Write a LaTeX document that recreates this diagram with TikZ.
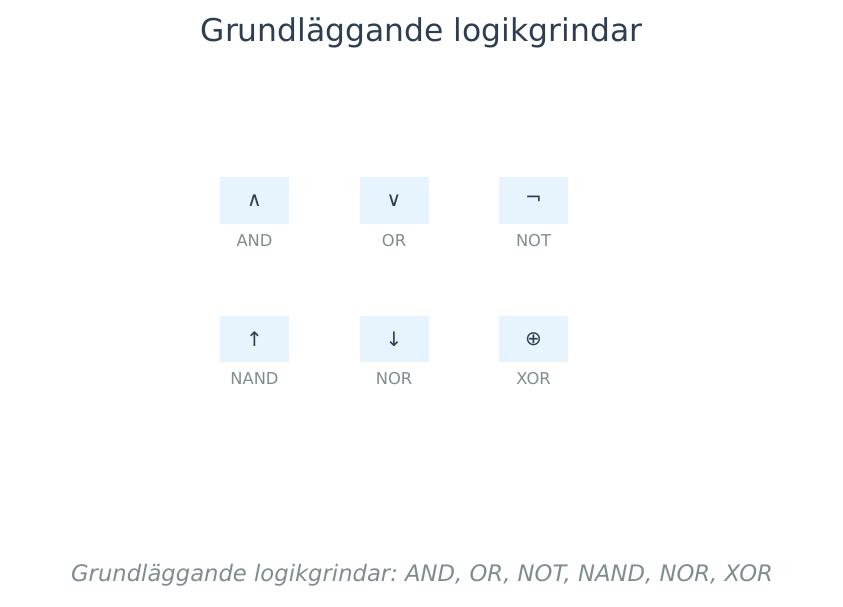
\documentclass[tikz,border=0pt]{standalone}
\usepackage{fontspec}
\setmainfont{DejaVu Sans}
\usepackage{tikz}
\usetikzlibrary{calc}
\frenchspacing

\definecolor{titlecol}{HTML}{2C3E50}
\definecolor{labelcol}{HTML}{7F8C8D}
\definecolor{boxcol}{HTML}{E8F4FD}

\begin{document}
\begin{tikzpicture}[x=1pt, y=1pt, gate/.style={fill=boxcol, minimum width=69pt, minimum height=46.5pt, inner sep=0pt, text=titlecol, font=\fontsize{20}{23}\selectfont}, gatename/.style={text=labelcol, font=\fontsize{16.3}{19}\selectfont, below of=#1, node distance=40pt},]
        \useasboundingbox (0,0) rectangle (843,607);
        \node[text=titlecol, font=\fontsize{31.4}{36}\selectfont] (title) at (421.5,574) {Grundläggande logikgrindar};
        % first row
        \node[gate] (and) at (254.5,406.5) {∧};
        \node[gate, right of=and, node distance=139.5pt] (or) {∨};
        \node[gate, right of=or, node distance=139.5pt] (not) {¬};
        % second row
        \node[gate, below of=and, node distance=138.5pt] (nand) {↑};
        \node[gate, right of=nand, node distance=139.5pt] (nor) {↓};
        \node[gate, right of=nor, node distance=139.5pt] (xor) {⊕};
        \node[gatename=and] (andname) {AND};
        \node[gatename=or] (orname) {OR};
        \node[gatename=not] (notname) {NOT};
        \node[gatename=nand] (nandname) {NAND};
        \node[gatename=nor] (norname) {NOR};
        \node[gatename=xor] (xorname) {XOR};
        \node[text=labelcol, font=\fontsize{22.7}{27}\selectfont\itshape] (caption) at (422,32) {Grundläggande logikgrindar: AND, OR, NOT, NAND, NOR, XOR};
      \end{tikzpicture}
\end{document}
